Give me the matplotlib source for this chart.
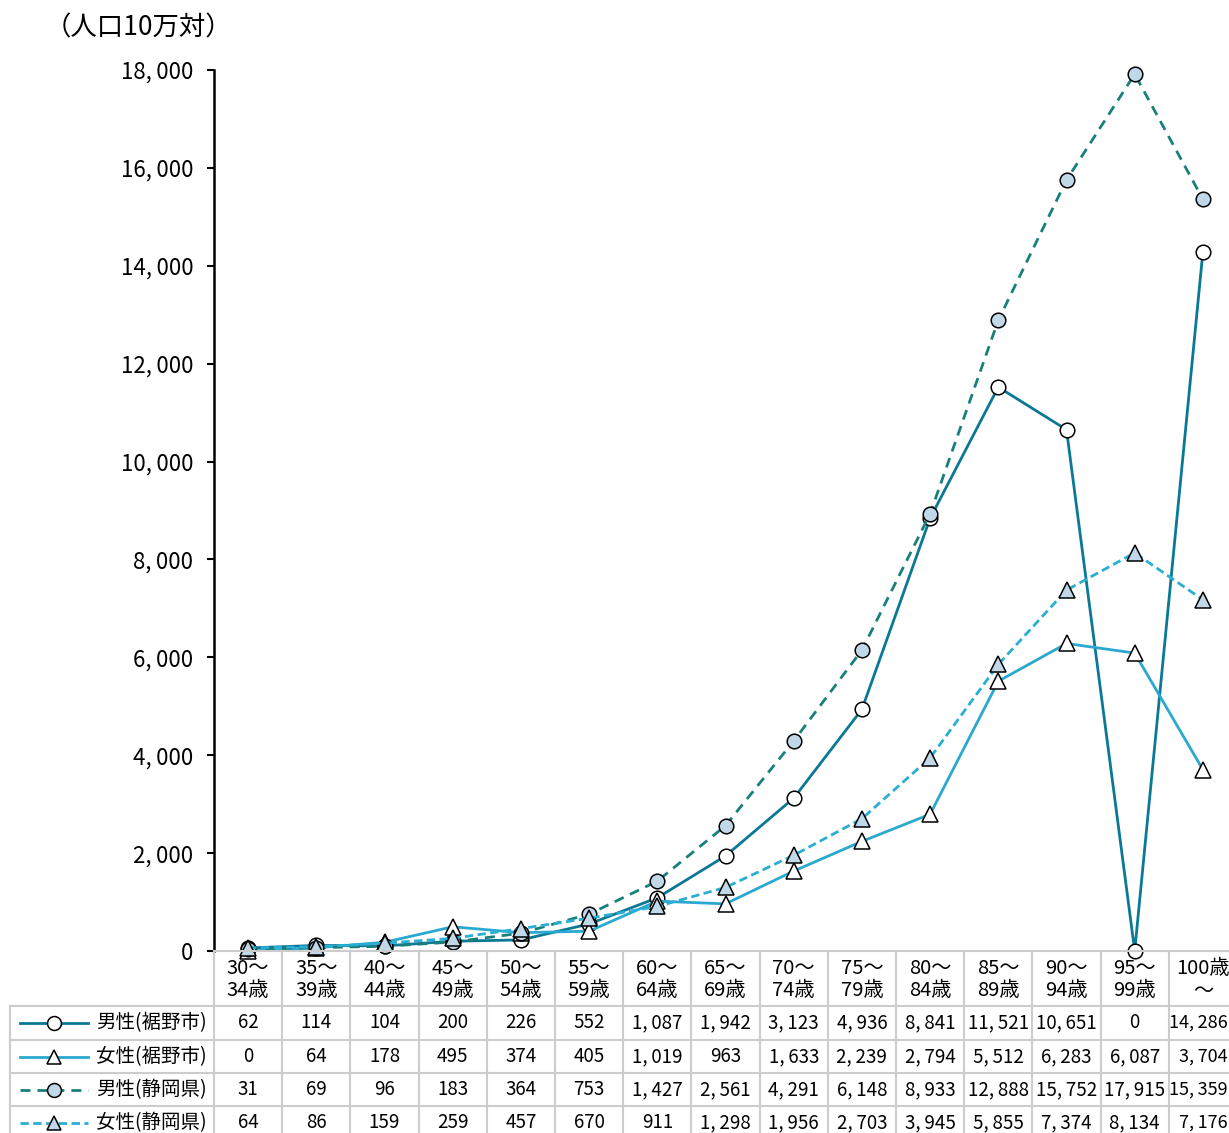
import matplotlib.pyplot as plt
from matplotlib.lines import Line2D

plt.rcParams['font.family'] = ['Noto Sans CJK JP', 'DejaVu Sans']

# 年齢階級
age_top = ['30～', '35～', '40～', '45～', '50～', '55～', '60～', '65～', '70～',
           '75～', '80～', '85～', '90～', '95～', '100歳']
age_bottom = ['34歳', '39歳', '44歳', '49歳', '54歳', '59歳', '64歳', '69歳', '74歳',
              '79歳', '84歳', '89歳', '94歳', '99歳', '～']

# 人口10万対
male_susono = [62, 114, 104, 200, 226, 552, 1087, 1942, 3123, 4936, 8841, 11521, 10651, 0, 14286]
female_susono = [0, 64, 178, 495, 374, 405, 1019, 963, 1633, 2239, 2794, 5512, 6283, 6087, 3704]
male_shizuoka = [31, 69, 96, 183, 364, 753, 1427, 2561, 4291, 6148, 8933, 12888, 15752, 17915, 15359]
female_shizuoka = [64, 86, 159, 259, 457, 670, 911, 1298, 1956, 2703, 3945, 5855, 7374, 8134, 7176]

labels = ['男性(裾野市)', '女性(裾野市)', '男性(静岡県)', '女性(静岡県)']
yticks = list(range(0, 18001, 2000))

W, H = 1229, 1133
fill = '#c0d8e8'
styles = [
    dict(color='#0b7896', ls='-', marker='o', mfc='white'),
    dict(color='#2aa8cf', ls='-', marker='^', mfc='white'),
    dict(color='#18807a', ls=(0, (3.6, 2.5)), marker='o', mfc=fill),
    dict(color='#2aaed3', ls=(0, (3.0, 1.6)), marker='^', mfc=fill),
]
series = [male_susono, female_susono, male_shizuoka, female_shizuoka]


def fmt(v):
    # 桁区切りのあとに細いスペース
    return f'{v:,}'.replace(',', ',\u2009')


fig = plt.figure(figsize=(W / 100, H / 100), dpi=100)

# グラフ本体
colw = (1237 - 214) / 15
ax = fig.add_axes([214 / W, (H - 951) / H, (1237 - 214) / W, (951 - 70) / H])
x = list(range(len(age_top)))
for vals, st in zip(series, styles):
    ms = 10.5 if st['marker'] == 'o' else 11
    ax.plot(x, vals, color=st['color'], ls=st['ls'], lw=2.0, marker=st['marker'],
            ms=ms, mfc=st['mfc'], mec='black', mew=1.1, clip_on=False)
ax.set_xlim(-0.5, 14.5)
ax.set_ylim(0, 18000)
ax.set_yticks(yticks)
ax.set_yticklabels([fmt(v) for v in yticks], fontsize=16)
ax.tick_params(axis='y', direction='out', length=5, width=1.5, pad=10)
ax.set_xticks([])
for s in ['top', 'right', 'bottom']:
    ax.spines[s].set_visible(False)
ax.spines['left'].set_linewidth(1.8)
fig.text(138 / W, 1 - 28 / H, '（人口10万対）', fontsize=19, ha='center', va='center')

# データテーブル
tax = fig.add_axes([10 / W, 0, (1237 - 10) / W, (H - 951) / H])
lw_units = 204 / colw
x0 = -0.5 - lw_units
tax.set_xlim(x0, 14.5)
tax.set_ylim(H - 951, 0)
tax.axis('off')
grid = '#cccccc'
rows = [55, 89, 122, 155, 189]
# 縦線
for i in range(16):
    tax.plot([i - 0.5, i - 0.5], [0, rows[-1]], color=grid, lw=1.5, clip_on=False)
tax.plot([x0, x0], [rows[0], rows[-1]], color=grid, lw=1.5, clip_on=False)
# 横線
tax.plot([-0.5, 14.5], [0, 0], color=grid, lw=1.5, clip_on=False)
for r in rows:
    tax.plot([x0, 14.5], [r, r], color=grid, lw=1.5, clip_on=False)

for i, (a, b) in enumerate(zip(age_top, age_bottom)):
    tax.text(i, 17, a, ha='center', va='center', fontsize=14.5)
    tax.text(i, 40, b, ha='center', va='center', fontsize=14.5)

# 右端の列は画像内に収まるよう右寄せ
last_x = x0 + (1228 - 10) / colw
for k, (vals, st, lab) in enumerate(zip(series, styles, labels)):
    yc = (rows[k] + rows[k + 1]) / 2
    xs = [x0 + 10 / colw, x0 + 78 / colw]
    tax.add_line(Line2D(xs, [yc, yc], color=st['color'], ls=st['ls'], lw=2.0))
    tax.plot([(xs[0] + xs[1]) / 2], [yc], marker=st['marker'], ms=10, mfc=st['mfc'],
             mec='black', mew=1.1)
    tax.text(x0 + 86 / colw, yc, lab, ha='left', va='center', fontsize=14)
    for i, v in enumerate(vals):
        if i == len(vals) - 1:
            tax.text(last_x, yc, fmt(v), ha='right', va='center', fontsize=13)
        else:
            tax.text(i, yc, fmt(v), ha='center', va='center', fontsize=13.5)

fig.savefig('out.png', dpi=100)
